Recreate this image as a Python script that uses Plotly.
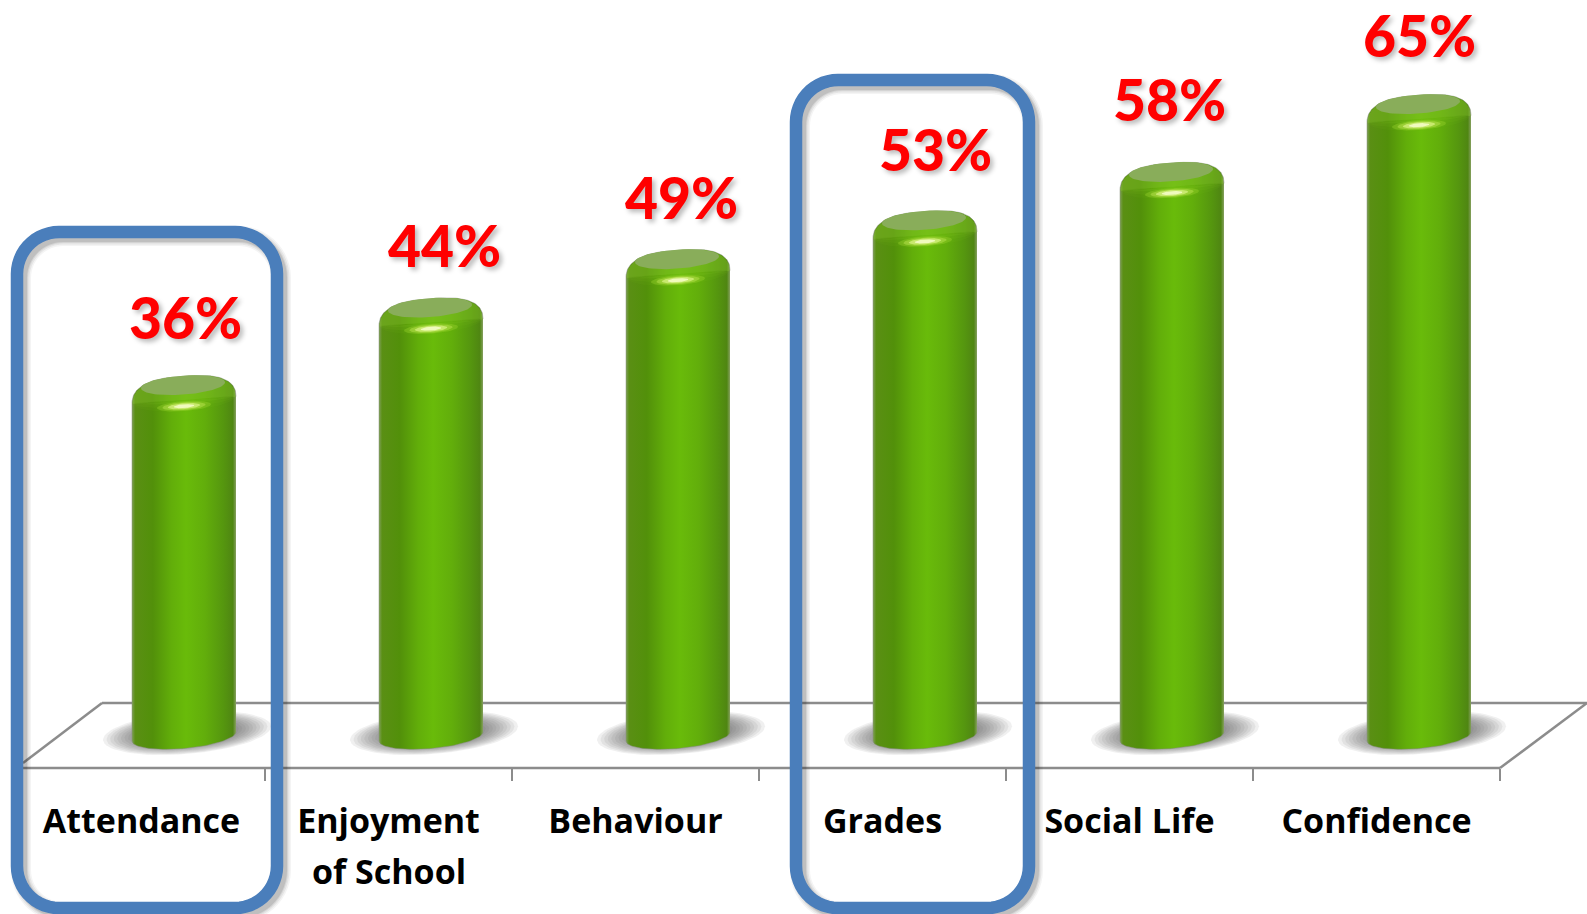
import numpy as np
import plotly.graph_objects as go

categories = ["Attendance", "Enjoyment", "Behaviour", "Grades", "Social Life", "Confidence"]
second_line = {1: "of School"}
values = [36, 44, 49, 53, 58, 65]
value_labels = ["36%", "44%", "49%", "53%", "58%", "65%"]
label_dx = [1, 13, 3, 10, -3, 0]
label_dy = [58, 53, 52, 61, 63, 59]

# layout constants (pixels)
W, H = 1587, 914
L, AXY = 18, 768
STEP = 247.0
K = 9.69
Y0 = 724.0
BAR_OFF = 42.5
R = 52.0

def X(px_offset, i):
    return i + px_offset / STEP

def Yv(px):
    return (Y0 - px) / K

def PX(px):
    return px / W

def PY(py):
    return (AXY - py) / AXY

GRAD = [[0, "#7f9f58"], [0.03, "#5a8f14"], [0.2, "#52900a"], [0.38, "#62ae0a"], [0.52, "#69bb0a"],
        [0.7, "#62ae0b"], [0.88, "#55960f"], [0.97, "#4f8612"], [1, "#86a060"]]

fig = go.Figure()
noh = dict(hoverinfo="skip", showlegend=False, cliponaxis=False)

# floor shadows
for i in range(len(values)):
    for s in np.linspace(1.05, 0.6, 11):
        t = np.linspace(0, 2 * np.pi, 80)
        dx = 80 * s * np.cos(t)
        dy = 20 * s * np.sin(t) - 0.08 * dx
        fig.add_trace(go.Scatter(x=X(BAR_OFF + 3 + dx, i), y=Yv(733 + dy), mode="lines", fill="toself",
                                 fillcolor="rgba(80,80,80,0.085)", line=dict(width=0), **noh))

# cylinders
for i, v in enumerate(values):
    top = Y0 - K * v
    t = np.linspace(0, np.pi, 70)
    c, s = np.cos(t), np.sin(t)
    xt = R * np.sign(c) * np.abs(c) ** 0.7
    yt = top + 25 - 24 * s ** 0.85 - 0.07 * xt
    t2 = np.linspace(np.pi, 2 * np.pi, 50)
    xb = R * np.cos(t2)
    yb = 736.5 - 12 * np.sin(t2) - 0.087 * xb
    fig.add_trace(go.Scatter(x=X(BAR_OFF + np.r_[xt, xb], i), y=Yv(np.r_[yt, yb]), mode="lines", fill="toself",
                             fillgradient=dict(type="horizontal", colorscale=GRAD),
                             line=dict(width=0.8, color="rgba(130,140,120,0.6)"), **noh))
    # soft bevel glow below the cap
    for depth, col in [(12, "rgba(130,200,30,0.07)"), (8, "rgba(130,200,30,0.09)"), (4, "rgba(140,205,40,0.12)"), (1, "rgba(150,205,60,0.16)")]:
        xb2 = np.linspace(-R + 0.5, R - 0.5, 60)
        yb2 = top + 24 + depth * np.sqrt(1 - (xb2 / R) ** 2) - 0.07 * xb2
        fig.add_trace(go.Scatter(x=X(BAR_OFF + np.r_[xt * 0.99, xb2[::-1]], i),
                                 y=Yv(np.r_[yt + 0.5, yb2[::-1]]), mode="lines", fill="toself",
                                 fillcolor=col, line=dict(width=0), **noh))
    # top cap
    t3 = np.linspace(0, 2 * np.pi, 80)
    xc = 42 * np.cos(t3)
    yc = top + 10 - 9.5 * np.sin(t3) - 0.07 * xc
    fig.add_trace(go.Scatter(x=X(BAR_OFF - 1 + xc, i), y=Yv(yc), mode="lines", fill="toself",
                             fillcolor="#89ad5a", line=dict(width=0), **noh))
    # highlight
    for sc, col in [(1.0, "rgba(160,215,50,0.35)"), (0.8, "rgba(185,225,80,0.5)"), (0.6, "rgba(215,240,130,0.75)"), (0.38, "rgba(240,250,190,1)")]:
        xh = 27 * sc * np.cos(t3)
        yh = top + 31 - 5 * sc * np.sin(t3) - 0.07 * xh
        fig.add_trace(go.Scatter(x=X(BAR_OFF + xh, i), y=Yv(yh), mode="lines", fill="toself",
                                 fillcolor=col, line=dict(width=0), **noh))

annotations = [dict(x=X(BAR_OFF + label_dx[i], i), y=values[i], xref="x", yref="y", text=value_labels[i],
                    showarrow=False, yshift=label_dy[i], yanchor="middle", xanchor="center", borderpad=0,
                    font=dict(family="Lato", size=57, color="#ff0000", weight=900,
                              shadow="3px 3px 5px rgba(0,0,0,0.28)"))
               for i in range(len(values))]
for i, txt in second_line.items():
    annotations.append(dict(x=i, y=PY(871), xref="x", yref="paper", text=txt, showarrow=False,
                            yanchor="middle", xanchor="center",
                            font=dict(family="Open Sans", size=34, color="#000000", weight=700)))

def rounded(x0, y0, x1, y1, r):
    def p(x, y):
        return f"{PX(x):.5f},{PY(y):.5f}"
    path = "M" + p(x0 + r, y0) + " L" + p(x1 - r, y0)
    pts = []
    for cx, cy, a0, a1 in [(x1 - r, y0 + r, -90, 0), (x1 - r, y1 - r, 0, 90), (x0 + r, y1 - r, 90, 180), (x0 + r, y0 + r, 180, 270)]:
        for a in np.radians(np.linspace(a0, a1, 14)):
            pts.append(p(cx + r * np.cos(a), cy + r * np.sin(a)))
    return path + " L" + " L".join(pts) + " Z"

shapes = []
floor_line = dict(color="#8c8c8c", width=2.5)
for (a, b, c, d) in [(102, 703, 1587, 703), (102, 703, 23, 763), (1587, 703, 1500, 768), (23, 768, 1500, 768)]:
    shapes.append(dict(type="line", xref="paper", yref="paper", x0=PX(a), y0=PY(b), x1=PX(c), y1=PY(d),
                       line=floor_line, layer="below"))

boxes = [(17, 232, 277, 908), (796, 80, 1029, 908)]
for (x0, y0, x1, y1) in boxes:
    for w, op in [(20, 0.05), (17, 0.07), (14, 0.09), (12, 0.12)]:
        shapes.append(dict(type="path", xref="paper", yref="paper", path=rounded(x0 + 4, y0 + 4, x1 + 4, y1 + 4, 42),
                           line=dict(color=f"rgba(40,40,40,{op})", width=w), layer="above"))
    shapes.append(dict(type="path", xref="paper", yref="paper", path=rounded(x0, y0, x1, y1, 42),
                       line=dict(color="#4a7ebb", width=12.5), layer="above"))

fig.update_layout(
    width=W, height=H, autosize=False,
    margin=dict(l=0, r=0, t=0, b=H - AXY, pad=0),
    paper_bgcolor="white", plot_bgcolor="white",
    showlegend=False,
    annotations=annotations, shapes=shapes,
    xaxis=dict(range=[-0.5 - L / STEP, -0.5 + (W - L) / STEP], tickmode="array", tickvals=list(range(6)),
               ticktext=categories,
               showgrid=False, zeroline=False, showline=False,
               ticks="", ticklabelstandoff=30, tickangle=0,
               tickfont=dict(family="Open Sans", size=34, color="#000000", weight=700),
               minor=dict(tickmode="array", tickvals=[0.5, 1.5, 2.5, 3.5, 4.5, 5.5], ticks="outside",
                          ticklen=12, tickwidth=1.5, tickcolor="#8c8c8c", showgrid=False)),
    yaxis=dict(range=[Yv(AXY), Yv(0)], visible=False),
)
fig.write_html("out.html", config=dict(displayModeBar=False),
               post_script="document.body.style.margin='0';document.body.style.overflow='hidden';")
